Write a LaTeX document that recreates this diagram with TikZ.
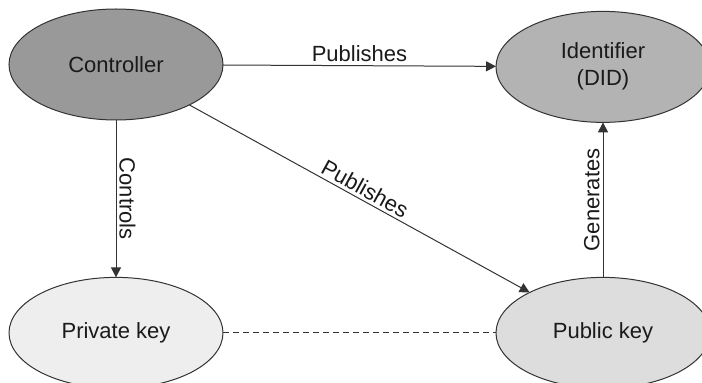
\documentclass[tikz,border=0pt]{standalone}
\usepackage{fontspec}
\setmainfont{Liberation Sans}
\usepackage{xcolor}
\usetikzlibrary{matrix,shapes.geometric,arrows.meta}
\definecolor{ctrlgray}{HTML}{999999}
\definecolor{idgray}{HTML}{B3B3B3}
\definecolor{privgray}{HTML}{EEEEEE}
\definecolor{pubgray}{HTML}{DDDDDD}
\definecolor{linegray}{HTML}{333333}
\definecolor{textgray}{HTML}{1A1A1A}

\begin{document}
\begin{tikzpicture}[font=\fontsize{11}{13.5}\selectfont,
		link/.style={draw=linegray, line width=0.5pt, -{Triangle[length=5pt,width=5pt]}},
		lbl/.style={inner sep=1.5pt, text=textgray}]
		\useasboundingbox (0,0) rectangle (351pt,-191.5pt);
		\matrix (M) at (4.25pt,-4.25pt) [matrix of nodes, anchor=north west, inner sep=0pt, outer sep=0pt, ampersand replacement=\&, nodes={ellipse, draw=linegray, text=textgray, line width=0.5pt, inner sep=0pt, minimum width=107pt, minimum height=55.5pt}, row sep=77pt, column sep=136pt] {
			|[fill=ctrlgray]| Controller \& |[fill=idgray]| \begin{tabular}{@{}c@{}}Identifier\tabularnewline (DID)\end{tabular} \\
			|[fill=privgray]| Private key \& |[fill=pubgray]| Public key \\
		};
		\draw [link] (M-1-1) -- node [lbl, above] {Publishes} (M-1-2);
		\draw [link] (M-1-1) -- node [lbl, anchor=south, rotate=-90] {Controls} (M-2-1);
		\draw [link] (M-1-1) -- node [lbl, sloped, above] {Publishes} (M-2-2);
		\draw [link] (M-2-2) -- node [lbl, anchor=south, rotate=90] {Generates} (M-1-2);
		\draw [linegray, line width=0.5pt, dash pattern=on 3pt off 2pt] (M-2-1) -- (M-2-2);
	\end{tikzpicture}
\end{document}
